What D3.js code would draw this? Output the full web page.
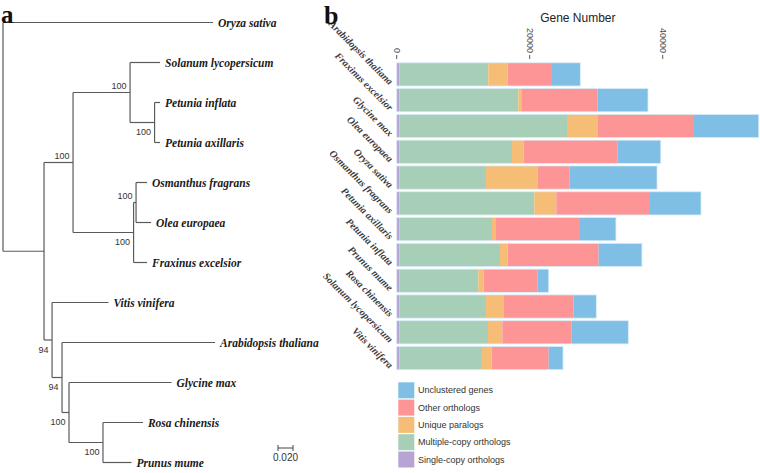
<!DOCTYPE html>
<html><head><meta charset="utf-8">
<script src="https://cdn.jsdelivr.net/npm/d3@7/dist/d3.min.js"></script>
<style>
html,body{margin:0;padding:0;background:#fff;}
svg{display:block;}
</style></head>
<body>
<svg id="chart" width="760" height="473"></svg>
<script>
// ---------- Panel a: phylogenetic tree data ----------
const treeIds = ["root","Oryza sativa","n1","nAst","nSol","Solanum lycopersicum","nPet","Petunia inflata","Petunia axillaris","nOle","nOsm","Osmanthus fragrans","Olea europaea","Fraxinus excelsior","nRos","Vitis vinifera","nR2","Arabidopsis thaliana","nR3","Glycine max","nR4","Rosa chinensis","Prunus mume"];
const treeParents = ["","root","root","n1","nAst","nSol","nSol","nPet","nPet","nAst","nOle","nOsm","nOsm","nOle","n1","nRos","nRos","nR2","nR2","nR3","nR3","nR4","nR4"];
const branchLengths = [0,0.280,0.0547,0.0387,0.076,0.040,0.0327,0.0073,0.0073,0.0807,0.0033,0.0147,0.020,0.018,0.0107,0.0753,0.0133,0.204,0.0093,0.1367,0.0453,0.0533,0.038];
const bootstrap = [null,null,null,100,100,null,100,null,null,100,100,null,null,null,94,null,94,null,100,null,100,null,null];
const scaleBarValue = 0.020;

// ---------- Panel b: gene number data ----------
const species = ["Arabidopsis thaliana","Fraxinus excelsior","Glycine max","Olea europaea","Oryza sativa","Osmanthus fragrans","Petunia axillaris","Petunia inflata","Prunus mume","Rosa chinensis","Solanum lycopersicum","Vitis vinifera"];
const singleCopy   = [400,400,400,400,400,400,400,400,400,400,400,400];
const multipleCopy = [13370,17890,25210,16940,13030,20290,13930,15130,11870,13030,13330,12430];
const uniqueParalogs = [2920,450,4560,1760,7820,3310,600,1160,810,2600,2150,1460];
const otherOrthologs = [6660,11430,14540,14140,4770,14090,12630,13680,8070,10590,10440,8570];
const unclustered  = [4260,7620,9730,6470,13130,7670,5410,6510,1710,3400,8510,2150];
const seriesNames = ["Single-copy orthologs","Multiple-copy orthologs","Unique paralogs","Other orthologs","Unclustered genes"];
const seriesColors = ["#b7a3d4","#a7cfb7","#f6bd76","#fd9597","#7fbfe6"];
const xTicks = [0,20000,40000];

const svg = d3.select("#chart");
const serif = "'Liberation Serif','Times New Roman',serif";
const sans = "'Liberation Sans',Arial,sans-serif";

// ================= Panel a =================
const rows = treeIds.map((id,i)=>({id, parent: treeParents[i]||null, len: branchLengths[i], bs: bootstrap[i]}));
const root = d3.stratify().id(d=>d.id).parentId(d=>d.parent)(rows);
root.eachBefore(n=>{ n.dist = n.parent ? n.parent.dist + n.data.len : 0; });
const tx = d3.scaleLinear().domain([0, 0.02]).range([3, 18]);
const leaves = root.leaves();
const ty = d3.scalePoint().domain(leaves.map(d=>d.id)).range([22.5, 462.5]);
root.eachAfter(n=>{
  if(!n.children) n.yy = ty(n.id);
  else n.yy = (n.children[0].yy + n.children[n.children.length-1].yy)/2;
  n.xx = tx(n.dist);
});
const gT = svg.append("g");
const lineCol = "#5a5a5a";
root.descendants().forEach(n=>{
  if(n.parent){
    gT.append("line").attr("x1", n.parent.xx).attr("x2", n.xx).attr("y1", n.yy).attr("y2", n.yy)
      .attr("stroke", lineCol).attr("stroke-width", 1.2);
  }
  if(n.children){
    gT.append("line").attr("x1", n.xx).attr("x2", n.xx)
      .attr("y1", n.children[0].yy).attr("y2", n.children[n.children.length-1].yy)
      .attr("stroke", lineCol).attr("stroke-width", 1.2);
  }
});
// bootstrap labels
root.descendants().forEach(n=>{
  if(n.data.bs!=null){
    const first = n.parent && n.parent.children[0]===n;
    gT.append("text").attr("x", n.xx-3.5).attr("y", first ? n.yy-3.5 : n.yy+12.5)
      .attr("text-anchor","end").attr("font-family",sans).attr("font-size",9).attr("fill","#333")
      .text(n.data.bs);
  }
});
// leaf labels
leaves.forEach(n=>{
  gT.append("text").attr("x", n.xx+5).attr("y", n.yy).attr("dy","0.35em")
    .attr("font-family",serif).attr("font-style","italic").attr("font-weight","bold")
    .attr("font-size",11.5).attr("fill","#1a1a1a").text(n.id);
});
// scale bar
const sbx0 = 278, sby = 448;
const sbLen = tx(scaleBarValue) - tx(0);
gT.append("line").attr("x1",sbx0).attr("x2",sbx0+sbLen).attr("y1",sby).attr("y2",sby).attr("stroke","#444").attr("stroke-width",1);
[sbx0, sbx0+sbLen].forEach(x=>gT.append("line").attr("x1",x).attr("x2",x).attr("y1",sby-3).attr("y2",sby+3).attr("stroke","#444").attr("stroke-width",1));
gT.append("text").attr("x",sbx0+sbLen/2).attr("y",461).attr("text-anchor","middle")
  .attr("font-family",sans).attr("font-size",10).attr("fill","#333").text(d3.format(".3f")(scaleBarValue));
// panel letter
svg.append("text").attr("x",1).attr("y",22.5).attr("font-family",serif).attr("font-weight","bold")
  .attr("font-size",25).attr("fill","#111").text("a");

// ================= Panel b =================
const x = d3.scaleLinear().domain([0,40000]).range([396.7,662.7]);
const y = d3.scaleBand().domain(species).range([61.5,371]).paddingInner(0.1).paddingOuter(0.05);
const table = species.map((s,i)=>({species:s, s0:singleCopy[i], s1:multipleCopy[i], s2:uniqueParalogs[i], s3:otherOrthologs[i], s4:unclustered[i]}));
const stack = d3.stack().keys(["s0","s1","s2","s3","s4"])(table);
const gB = svg.append("g");
stack.forEach((layer,k)=>{
  gB.append("g").attr("fill", seriesColors[k]).selectAll("rect").data(layer).join("rect")
    .attr("x", d=>x(d[0])).attr("width", d=>x(d[1])-x(d[0]))
    .attr("y", d=>y(d.data.species)).attr("height", y.bandwidth());
});
// light outline around each bar
gB.append("g").selectAll("rect").data(table).join("rect")
  .attr("x", x(0)).attr("y", d=>y(d.species))
  .attr("width", d=>x(d.s0+d.s1+d.s2+d.s3+d.s4)-x(0)).attr("height", y.bandwidth())
  .attr("fill","none").attr("stroke","#d8ecf7").attr("stroke-width",0.8);

// x axis (top, rotated labels)
const gx = svg.append("g");
xTicks.forEach(t=>{
  gx.append("line").attr("x1",x(t)).attr("x2",x(t)).attr("y1",55).attr("y2",59).attr("stroke","#555").attr("stroke-width",1);
  gx.append("text").attr("transform",`translate(${x(t)},53) rotate(90)`).attr("text-anchor","end").attr("dy","0.35em")
    .attr("font-family",sans).attr("font-size",9).attr("fill","#4d4d4d").text(t);
});
svg.append("text").attr("x",(x(0)+759)/2).attr("y",22).attr("text-anchor","middle")
  .attr("font-family",sans).attr("font-size",12).attr("fill","#222").text("Gene Number");

// y labels rotated 45°
species.forEach(s=>{
  const cy = y(s)+y.bandwidth()/2;
  svg.append("text").attr("transform",`translate(389,${cy+11}) rotate(45)`).attr("text-anchor","end")
    .attr("font-family",serif).attr("font-style","italic").attr("font-weight","bold")
    .attr("font-size",10).attr("fill","#3a3a3a").text(s);
});
svg.append("text").attr("x",324).attr("y",23.5).attr("font-family",serif).attr("font-weight","bold")
  .attr("font-size",26).attr("fill","#111").text("b");

// legend
const legOrder = [4,3,2,1,0];
const gL = svg.append("g");
legOrder.forEach((k,i)=>{
  const yy = 382.3 + i*17.3;
  gL.append("rect").attr("x",398.3).attr("y",yy).attr("width",16).attr("height",16).attr("fill",seriesColors[k]);
  gL.append("text").attr("x",418).attr("y",yy+8).attr("dy","0.35em").attr("font-family",sans)
    .attr("font-size",9).attr("fill","#333").text(seriesNames[k]);
});
</script>
</body></html>
